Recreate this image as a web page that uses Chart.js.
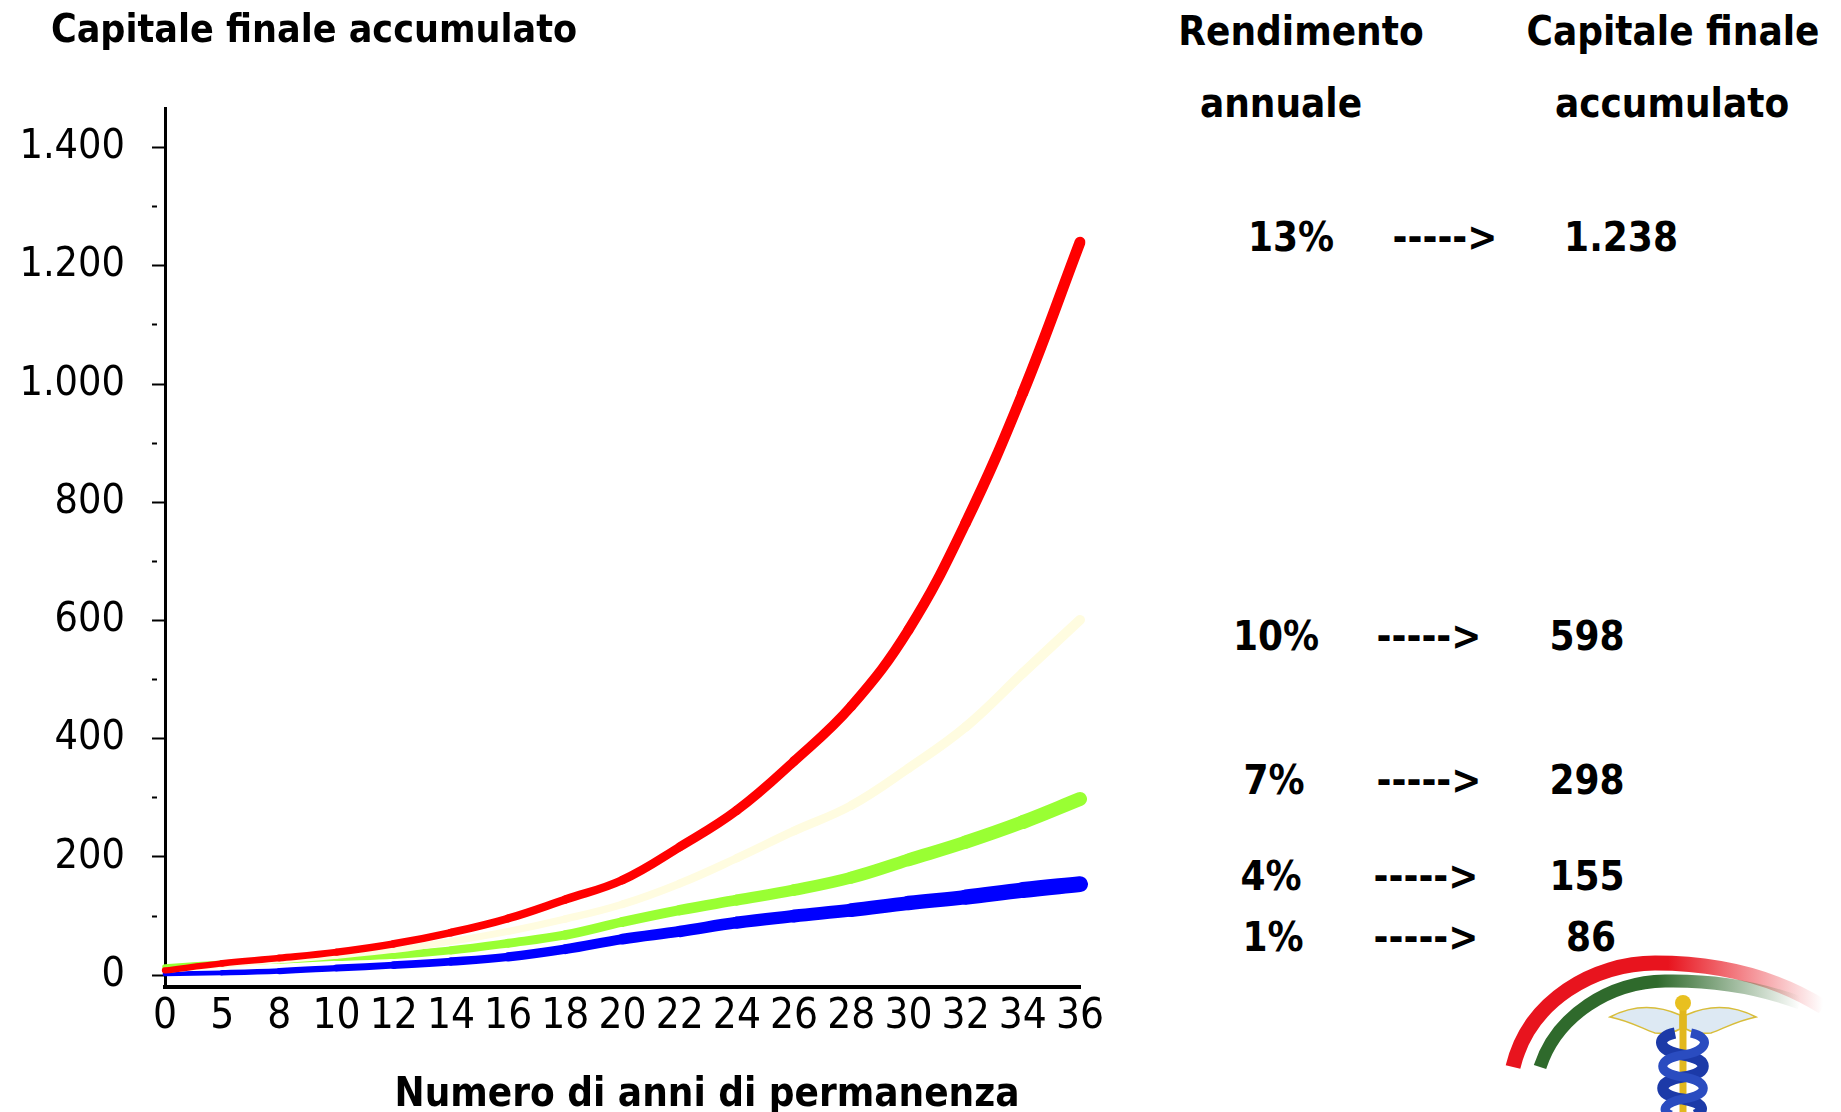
<!DOCTYPE html>
<html>
<head>
<meta charset="utf-8">
<script src="https://cdn.jsdelivr.net/npm/chart.js@4.4.0/dist/chart.umd.min.js"></script>
<style>
  body { margin: 0; background: #fff; }
  #wrap { position: relative; width: 1841px; height: 1112px; overflow: hidden; font-family: 'DejaVu Sans Condensed', 'DejaVu Sans', sans-serif; }
  #box { position: absolute; left: 0; top: 0; width: 1130px; height: 1112px; }
  .t { position: absolute; transform: translate(-50%, -50%); white-space: nowrap; font-weight: bold; color: #000; line-height: 1; }
</style>
</head>
<body>
<div id="wrap">
  <div id="box"><canvas id="linechart"></canvas></div>
  <div class="t" style="left:314px;top:28px;font-size:39px">Capitale finale accumulato</div>
  <div class="t" style="left:707px;top:1092px;font-size:40px">Numero di anni di permanenza</div>
  <div class="t" style="left:1301px;top:31px;font-size:40px">Rendimento</div>
  <div class="t" style="left:1281px;top:103px;font-size:40px">annuale</div>
  <div class="t" style="left:1673px;top:31px;font-size:40px">Capitale finale</div>
  <div class="t" style="left:1672px;top:103px;font-size:40px">accumulato</div>
  <div id="tabella"></div>
  <svg style="position:absolute;left:1505px;top:955px" width="336" height="157" viewBox="0 0 336 157">
    <defs>
      <linearGradient id="gr" x1="0" x2="1" y1="0" y2="0">
        <stop offset="0" stop-color="#e8141e"/>
        <stop offset="0.5" stop-color="#e8141e"/>
        <stop offset="1" stop-color="#e8141e" stop-opacity="0"/>
      </linearGradient>
      <linearGradient id="gg" x1="0" x2="1" y1="0" y2="0">
        <stop offset="0" stop-color="#2f6a2c"/>
        <stop offset="0.45" stop-color="#2f6a2c"/>
        <stop offset="1" stop-color="#2f6a2c" stop-opacity="0"/>
      </linearGradient>
    </defs>
    <path d="M8,112 C24,45 90,8 150,8 C215,8 270,22 318,52" fill="none" stroke="url(#gr)" stroke-width="15"/>
    <path d="M35,112 C52,60 105,27 160,26 C212,25 255,33 295,48" fill="none" stroke="url(#gg)" stroke-width="13"/>
    <path d="M175,60 C148,48 124,52 105,62 C125,66 138,74 150,78 C160,79 168,78 175,74 Z" fill="#dde9f3" stroke="#d8bd3a" stroke-width="1.5"/>
    <path d="M181,60 C208,48 232,52 251,62 C231,66 218,74 206,78 C196,79 188,78 181,74 Z" fill="#dde9f3" stroke="#d8bd3a" stroke-width="1.5"/>
    <line x1="178" y1="50" x2="178" y2="157" stroke="#e2b81e" stroke-width="7"/>
    <circle cx="178" cy="48" r="8" fill="#e8c020"/>
    <path d="M170,78 C150,82 152,96 178,100 C204,104 206,118 178,122 C152,126 150,140 178,144 C200,148 200,156 190,160" fill="none" stroke="#1c3aa8" stroke-width="11"/>
    <path d="M186,78 C206,82 204,96 178,100 C152,104 150,118 178,122 C204,126 206,140 178,144 C158,148 156,156 166,160" fill="none" stroke="#2a4cc0" stroke-width="9"/>
  </svg>
</div>
<script>
// anni di permanenza (etichette asse x)
var anni = ['0', '5', '8', '10', '12', '14', '16', '18', '20', '22', '24', '26', '28', '30', '32', '34', '36'];
// capitale accumulato per rendimento annuale
var rend13 = [8, 20, 29, 39, 53, 72, 96, 128, 161, 217, 279, 362, 455, 584, 765, 985, 1240];
var rend10 = [8, 17, 25, 33, 43, 57, 74, 95, 120, 155, 198, 244, 287, 350, 420, 511, 601];
var rend7 = [14, 20, 25, 30, 34, 42, 54, 68, 90, 110, 127, 144, 165, 195, 225, 259, 298];
var rend4 = [2, 4, 7, 12, 17, 23, 31, 44, 61, 74, 89, 100, 110, 122, 132, 144, 154];
var yTicks = [0, 100, 200, 300, 400, 500, 600, 700, 800, 900, 1000, 1100, 1200, 1300, 1400];
// tabella a destra
var rendimenti = ['13%', '10%', '7%', '4%', '1%'];
var capitali = ['1.238', '598', '298', '155', '86'];

// posizioni delle righe della tabella
var righe = [
    { y: 237, a: 1291, b: 1445, c: 1621 },
    { y: 636, a: 1276, b: 1429, c: 1587 },
    { y: 780, a: 1274, b: 1429, c: 1587 },
    { y: 876, a: 1271, b: 1426, c: 1587 },
    { y: 937, a: 1273, b: 1426, c: 1591 }
];
var tab = document.getElementById('tabella');
righe.forEach(function (r, i) {
    [[r.a, rendimenti[i]], [r.b, '----->'], [r.c, capitali[i]]].forEach(function (p) {
        var d = document.createElement('div');
        d.className = 't';
        d.style.left = p[0] + 'px';
        d.style.top = r.y + 'px';
        d.style.fontSize = '40px';
        d.textContent = p[1];
        tab.appendChild(d);
    });
});

function migliaia(v) {
    var s = String(v);
    return s.length > 3 ? s.slice(0, s.length - 3) + '.' + s.slice(s.length - 3) : s;
}

// larghezza crescente del tratto, come nelle bande del grafico originale
function larghezza(w0, w1) {
    return function (ctx) {
        return w0 + (w1 - w0) * ctx.p1DataIndex / (anni.length - 1);
    };
}

function serie(data, color, w0, w1) {
    return {
        data: data,
        borderColor: color,
        borderWidth: w1,
        borderCapStyle: 'round',
        borderJoinStyle: 'round',
        pointRadius: 0,
        tension: 0.4,
        segment: { borderWidth: larghezza(w0, w1) }
    };
}

var ctxline = document.getElementById('linechart');
var linechart = new Chart(ctxline, {
    type: 'line',
    data: {
        labels: anni,
        datasets: [
            serie(rend13, '#ff0000', 6, 11),
            serie(rend10, '#fffce0', 5, 10),
            serie(rend7, '#99ff33', 5, 14),
            serie(rend4, '#0000ff', 4, 16)
        ]
    },
    options: {
        responsive: true,
        maintainAspectRatio: false,
        animation: false,
        layout: { padding: { top: 108, right: 50, left: 0, bottom: 0 } },
        plugins: {
            legend: { display: false },
            tooltip: { enabled: false }
        },
        scales: {
            x: {
                offset: false,
                grid: { display: false, drawTicks: false },
                border: { display: true, color: '#000', width: 4 },
                ticks: {
                    color: '#000',
                    padding: 5,
                    maxRotation: 0,
                    autoSkip: false,
                    font: { family: "'DejaVu Sans Condensed', 'DejaVu Sans'", size: 42 }
                },
                afterFit: function (scale) { scale.height = 125; }
            },
            y: {
                min: -20,
                max: 1467,
                grid: {
                    drawOnChartArea: false,
                    drawTicks: true,
                    tickLength: 13,
                    tickWidth: 2,
                    tickColor: '#000',
                    tickBorderDash: function (ctx) {
                        return ctx.tick && ctx.tick.value % 200 !== 0 ? [5, 100] : [];
                    }
                },
                border: { display: true, color: '#000', width: 3 },
                afterBuildTicks: function (scale) {
                    scale.ticks = yTicks.map(function (v) { return { value: v }; });
                },
                ticks: {
                    color: '#000',
                    padding: 27,
                    font: { family: "'DejaVu Sans Condensed', 'DejaVu Sans'", size: 41 },
                    callback: function (v) { return v % 200 === 0 ? migliaia(v) : ''; }
                },
                afterFit: function (scale) { scale.width = 165; }
            }
        }
    }
});
</script>
</body>
</html>
